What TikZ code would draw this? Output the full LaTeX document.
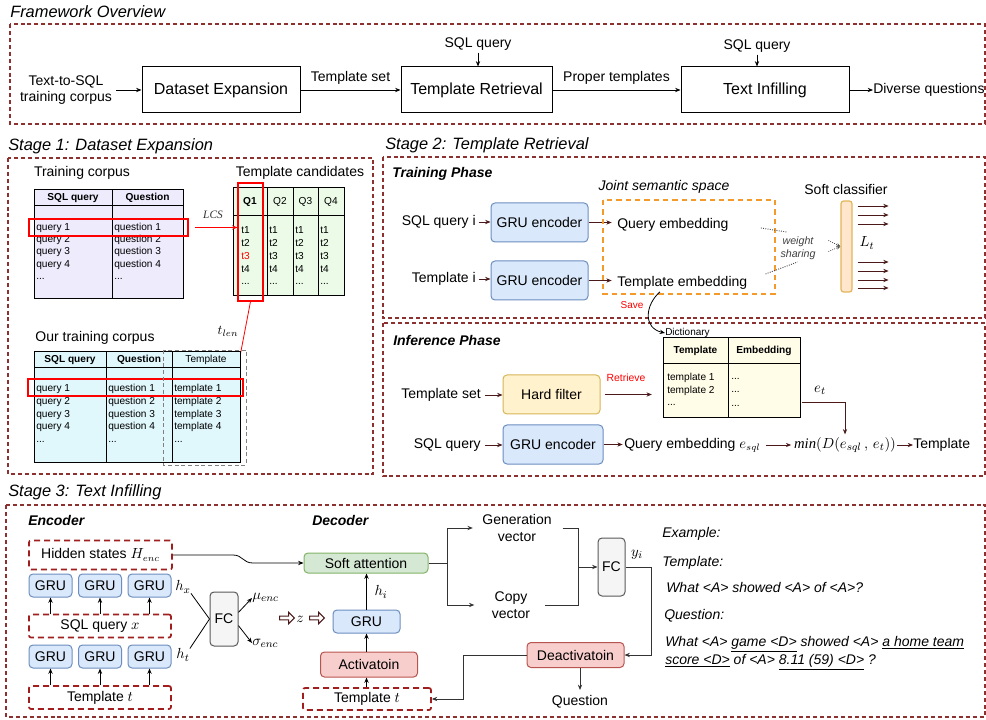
\documentclass[tikz,border=0pt]{standalone}
\usepackage{fontspec}
\setmainfont{Liberation Sans}
\newfontfamily\tnr{Liberation Serif}
\usetikzlibrary{arrows.meta,calc,shapes.arrows}
\definecolor{frame}{RGB}{140,48,48}
\definecolor{dred}{RGB}{160,30,30}
\definecolor{maroon}{RGB}{75,25,25}
\definecolor{bluef}{HTML}{DAE8FC}
\definecolor{bluel}{HTML}{6C8EBF}
\definecolor{greenf}{HTML}{D5E8D4}
\definecolor{greenl}{HTML}{82B366}
\definecolor{redf}{HTML}{F8CECC}
\definecolor{redl}{HTML}{B85450}
\definecolor{yelf}{HTML}{FFF2CC}
\definecolor{yell}{HTML}{D6B656}
\definecolor{orgf}{HTML}{FFE6CC}
\definecolor{orgl}{HTML}{E2B55A}
\definecolor{greyf}{HTML}{F5F5F5}
\definecolor{lav}{HTML}{EEEBFC}
\definecolor{mint}{HTML}{EBFBE8}
\definecolor{cyanf}{HTML}{E0F7FC}
\definecolor{creamf}{HTML}{FFFDE8}
\definecolor{orng}{HTML}{F39A2B}
\newcommand\fA{\fontsize{10.5}{12.6}\selectfont}
\newcommand\fB{\fontsize{12}{14.4}\selectfont}
\newcommand\fS{\fontsize{7.6}{9}\selectfont}
\newcommand\fT{\fontsize{12.3}{14}\selectfont\itshape}
\newcommand\fH{\fontsize{10.5}{12.6}\selectfont\bfseries\itshape}
\tikzset{
 sz/.style 2 args={minimum width=#1*0.75pt, minimum height=#2*0.75pt, inner sep=0pt},
 frm/.style={draw=frame, line width=0.8pt, dash pattern=on 3pt off 2.2pt},
 ttl/.style={font=\fT, anchor=west, inner sep=0pt},
 hdr/.style={font=\fH, anchor=west, inner sep=0pt},
 lbl/.style={font=\fA, align=center, inner sep=0pt},
 plainbox/.style={draw, line width=0.75pt, font=\fB},
 arr/.style={-{Stealth[length=4pt,width=3.2pt]}, line width=0.6pt},
 marr/.style={arr, draw=maroon},
 cell/.style={font=\fS, anchor=west, inner sep=0pt},
 hcell/.style={font=\fS\bfseries, inner sep=0pt},
 tab/.style={draw, line width=0.75pt},
 gru/.style={draw=bluel, fill=bluef, rounded corners=3pt, line width=0.75pt, font=\fA},
 dbox/.style={draw=dred, line width=1.3pt, dash pattern=on 4.5pt off 3pt, rounded corners=1.5pt, font=\fA},
 fcbox/.style={draw=gray!70!black, fill=greyf, rounded corners=3pt, line width=0.75pt, font=\fA},
 redbox/.style={draw=redl, fill=redf, rounded corners=3pt, line width=0.75pt, font=\fA},
 hl/.style={draw=red, line width=0.8pt},
 ex/.style={font=\fA\itshape, anchor=west, inner sep=0pt},
 oarr/.style={single arrow, draw=maroon, fill=white, line width=0.8pt, minimum height=11pt, minimum width=8.5pt, single arrow head extend=2pt, inner sep=0.6pt},
 mth/.style={font=\fontsize{11}{13}\selectfont, inner sep=0pt},
}
\begin{document}
\begin{tikzpicture}[x=0.75pt,y=-0.75pt]
\useasboundingbox (0,0) rectangle (986,720);

% ---------------- Framework overview
\node[ttl] (t0) at (10,12) {Framework Overview};
\draw[frm] (10,24) rectangle (985,124);
\node[lbl] (corpus) at (66,90) {Text-to-SQL\\training corpus};
\node[plainbox, sz={158}{46}] (de) at (221,90) {Dataset Expansion};
\node[plainbox, sz={151}{46}] (tr) at (476.5,90) {Template Retrieval};
\node[plainbox, sz={168}{46}] (ti) at (765,90) {Text Infilling};
\node[lbl, anchor=west] (dq) at (873,90) {Diverse questions};
\node[lbl] (sq1) at (478,44) {SQL query};
\node[lbl] (sq2) at (757,46) {SQL query};
\draw[arr, shorten <=3pt] (corpus.east) -- (corpus.east -| de.west);
\draw[arr] (de.east) -- node[lbl, above=4pt] (ts1) {Template set} (tr.west);
\draw[arr] (tr.east) -- node[lbl, above=4pt] (pt1) {Proper templates} (ti.west);
\draw[arr] (ti.east) -- (dq.west);
\draw[arr, shorten <=1.5pt] (sq1.south) -- (sq1.south |- tr.north);
\draw[arr, shorten <=1.5pt] (sq2.south) -- (sq2.south |- ti.north);

% ---------------- Stage 1
\node[ttl] (t1) at (8,146) {Stage 1: Dataset Expansion};
\draw[frm] (8,158) rectangle (373,474);
\node[lbl] (tcl) at (82,173) {Training corpus};
\node[tab, fill=lav, sz={149}{109}] (tc1) at (108.5,244.5) {};
\draw[line width=0.75pt] (34,206) -- (183,206) (112,190) -- (112,299);
\node[hcell] (h11) at (73,198) {SQL query};
\node[hcell] (h12) at (147.5,198) {Question};
\foreach \y/\n in {228/1,240/2,252/3,265/4} {
  \node[cell] (qa\n) at (36,\y) {query \n};
  \node[cell] (qb\n) at (114,\y) {question \n};
}
\node[cell] (qa5) at (36,279) {...};
\node[cell] (qb5) at (114,279) {...};
\node[hl, sz={159}{17}] (hl1) at (108.5,227.5) {};

\node[lbl] (tcand) at (300,173) {Template candidates};
\node[tab, fill=mint, sz={111}{108}] (tc2) at (288.5,242) {};
\draw[line width=0.75pt] (233,216) -- (344,216) (267,188) -- (267,296) (293,188) -- (293,296) (318,188) -- (318,296);
\node[hcell] (q1) at (250,202) {Q1};
\node[font=\fS, inner sep=0pt] (q2) at (280,202) {Q2};
\node[font=\fS, inner sep=0pt] (q3) at (305.5,202) {Q3};
\node[font=\fS, inner sep=0pt] (q4) at (331,202) {Q4};
\foreach \x/\c in {269/b,295/c,320/d} {
  \foreach \y/\n in {230/1,243/2,256/3,269/4} {
    \node[cell] (t\c\n) at (\x,\y) {t\n};
  }
  \node[cell] (t\c5) at (\x,284) {...};
}
\node[cell] (ta1) at (241,230) {t1};
\node[cell] (ta2) at (241,243) {t2};
\node[cell, text=red] (ta3) at (241,256) {t3};
\node[cell] (ta4) at (241,269) {t4};
\node[cell] (ta5) at (241,284) {...};
\node[hl, sz={25}{118}] (q1h) at (250.5,242) {};
\draw[arr, red, shorten <=4.5pt] (hl1.east) -- (hl1.east -| q1h.west)
   node[midway, above=3pt, font=\tnr\itshape\fontsize{8.5}{10}\selectfont, text=black!80] (lcs) {LCS};

\coordinate (tl) at (237,372);
\draw[arr, red] (q1h.south) -- (tl);
\node[font=\fontsize{10}{12}\selectfont, inner sep=0pt] (tlen) at (228,331) {$t_{len}$};

\node[lbl] (otc) at (95,338) {Our training corpus};
\node[tab, fill=cyanf, sz={206}{110}] (tc3) at (137,407) {};
\draw[line width=0.75pt] (34,368) -- (240,368) (106,352) -- (106,462) (172,352) -- (172,462);
\node[hcell] (h31) at (70,360) {SQL query};
\node[hcell] (h32) at (139,360) {Question};
\node[font=\fS, inner sep=0pt] (h33) at (206,360) {Template};
\foreach \y/\n in {389/1,402/2,415/3,427/4} {
  \node[cell] (ra\n) at (36,\y) {query \n};
  \node[cell] (rb\n) at (108,\y) {question \n};
  \node[cell] (rc\n) at (174,\y) {template \n};
}
\node[cell] (ra5) at (36,442) {...};
\node[cell] (rb5) at (108,442) {...};
\node[cell] (rc5) at (174,442) {...};
\node[hl, sz={215}{17}] (hl3) at (135.5,387.5) {};
\draw[gray, line width=0.7pt, dash pattern=on 3pt off 2pt] (163,350) rectangle (246,465);

% ---------------- Stage 2
\node[ttl] (t2) at (385,145) {Stage 2: Template Retrieval};
\draw[frm] (383,157) rectangle (985,318);
\draw[frm] (383,323) rectangle (985,476);
\node[hdr] (trp) at (392,174) {Training Phase};
\node[gru, sz={97}{39}] (ge1) at (539.5,222.5) {GRU encoder};
\node[gru, sz={97}{39}] (ge2) at (539.5,280.5) {GRU encoder};
\node[lbl, anchor=east] (sqi) at (476,222) {SQL query i};
\node[lbl, anchor=east] (tmi) at (476,279) {Template i};
\draw[marr, shorten <=2pt] (sqi.east) -- (sqi.east -| ge1.west);
\draw[marr, shorten <=2pt] (tmi.east) -- (tmi.east -| ge2.west);
\node[lbl, anchor=west] (qe) at (617,225) {Query embedding};
\node[lbl, anchor=west] (te) at (617,283) {Template embedding};
\draw[marr, shorten >=4pt] (ge1.east) -- (ge1.east -| qe.west);
\draw[marr, shorten >=4pt] (ge2.east) -- (ge2.east -| te.west);
\node[font=\fA\itshape, inner sep=0pt] (jss) at (664,187) {Joint semantic space};
\draw[draw=orng, line width=1pt, dash pattern=on 4pt off 3pt] (603,200) rectangle (775,294);
\node[draw=orgl, fill=orgf, rounded corners=2pt, line width=0.9pt, sz={11}{91}] (sc) at (846.5,246.5) {};
\node[lbl] (scl) at (846,189) {Soft classifier};
\foreach \y in {206,215,224,262,271,280,288} {
  \draw[marr] ([xshift=3.75pt, yshift={(246.5-\y)*0.75pt}]sc.east) -- ++(31,0);
}
\node[mth] (lt) at (867,243) {$L_t$};
\draw[densely dotted, gray!60!black, line width=0.7pt] ($(qe.east)+(32,3)$) -- ++(26,4);
\draw[densely dotted, gray!60!black, line width=0.7pt] ($(te.east)+(18,-9)$) -- ++(32,-12);
\node[font=\fontsize{8}{9.6}\selectfont\itshape, align=center, text=black!75, inner sep=0pt] (ws) at (798,248) {weight\\sharing};
\draw[densely dotted, gray!60!black, line width=0.6pt, -{Stealth[length=3pt,width=2.5pt]}] ($(sc.west)+(-12,-6)$) -- (sc.west);
\draw[densely dotted, gray!60!black, line width=0.6pt, -{Stealth[length=3pt,width=2.5pt]}] ($(sc.west)+(-12,5)$) -- (sc.west);

\node[font=\fontsize{7.5}{9}\selectfont, anchor=west, inner sep=0pt] (dl) at (665,333) {Dictionary};
\draw[arr] ($(te.south west)+(43,2)$) .. controls (645,305) and (643,328) .. (dl.west);
\node[text=red, font=\fontsize{7.5}{9}\selectfont, inner sep=0pt] (save) at (632,305) {Save};

\node[hdr] (inp) at (393,340) {Inference Phase};
\node[lbl, anchor=east] (tset) at (481,395) {Template set};
\node[draw=yell, fill=yelf, rounded corners=3pt, line width=0.75pt, font=\fA, sz={97}{39}] (hf) at (551.5,394.5) {Hard filter};
\draw[marr, shorten <=3pt] (tset.east) -- (tset.east -| hf.west);
\node[tab, fill=creamf, sz={137}{80}] (dict) at (731.5,378) {};
\draw[line width=0.75pt] (663,364) -- (800,364) (728,338) -- (728,418);
\node[hcell] (dh1) at (695.5,351) {Template};
\node[hcell] (dh2) at (764,351) {Embedding};
\node[cell] (dr1) at (667,378) {template 1};
\node[cell] (dr2) at (667,391) {template 2};
\node[cell] (dr3) at (667,405) {...};
\node[cell] (de1) at (731,379) {...};
\node[cell] (de2) at (731,392) {...};
\node[cell] (de3) at (731,406) {...};
\node[text=red, font=\fontsize{7.8}{9}\selectfont, inner sep=0pt] (retr) at (626,378) {Retrieve};
\draw[marr, shorten <=3pt, shorten >=8pt] (hf.east) -- (hf.east -| dict.west);

\node[gru, sz={100}{39}] (ge3) at (553,444.5) {GRU encoder};
\node[lbl, anchor=east] (sq3) at (481,445) {SQL query};
\node[lbl, anchor=west] (qe3) at (624,445) {Query embedding $e_{sql}$};
\node[mth] (minx) at (845,445) {{\tnr\itshape min}$(D(e_{sql}\,,\,e_t))$};
\node[lbl, anchor=west] (tpl) at (913,445) {Template};
\draw[marr, shorten <=3pt] (sq3.east) -- (sq3.east -| ge3.west);
\draw[marr, shorten >=1pt] (ge3.east) -- (ge3.east -| qe3.west);
\draw[marr, shorten <=4pt, shorten >=2pt] (qe3.east) -- (qe3.east -| minx.west);
\draw[marr, shorten <=1pt] (minx.east) -- (minx.east -| tpl.west);
\node[mth] (et) at (820,390) {$e_t$};
\draw[marr] ([xshift=1pt, yshift=-18pt]dict.east) -| ([yshift=2pt]minx.north);

% ---------------- Stage 3
\node[ttl] (t3) at (8,492) {Stage 3: Text Infilling};
\draw[frm] (6,505) rectangle (985,717);
\node[hdr] (enc) at (28,520) {Encoder};
\node[hdr] (dec) at (312,520) {Decoder};
\node[dbox, sz={143}{29}] (hs) at (100.5,555) {Hidden states $H_{enc}$};
\foreach \x/\n in {50.5/1,100/2,149.5/3} {
  \node[gru, sz={43}{23}] (ga\n) at (\x,585.5) {GRU};
  \node[gru, sz={43}{23}] (gb\n) at (\x,656.5) {GRU};
}
\node[dbox, sz={142}{23}] (sqx) at (100,626) {SQL query $x$};
\node[dbox, sz={142}{23}] (tpt) at (100,697.5) {Template $t$};
\foreach \n in {1,2,3} {
  \draw[arr] (sqx.north -| ga\n) -- (ga\n.south);
  \draw[arr] (tpt.north -| gb\n) -- (gb\n.south);
}
\node[mth] (hx) at (183,587) {$h_x$};
\node[mth] (ht) at (183,655) {$h_t$};
\node[fcbox, sz={28}{54}] (fc1) at (224,619) {FC};
\draw[line width=0.6pt] (hx.south east) -- (fc1.west);
\draw[line width=0.6pt] (ht.north east) -- (fc1.west);
\node[mth, anchor=west] (mu) at (252,598) {$\mu_{enc}$};
\node[mth, anchor=west] (sig) at (252,643) {$\sigma_{enc}$};
\draw[arr] ([yshift=5pt]fc1.east) -- (mu.west);
\draw[arr] ([yshift=-5pt]fc1.east) -- (sig.west);
\node[oarr] (oa1) at (286,618) {};
\node[mth] (zz) at (300,619) {$z$};
\node[oarr] (oa2) at (316,618) {};

\node[draw=greenl, fill=greenf, rounded corners=3pt, line width=0.75pt, font=\fA, sz={124}{20}] (sa) at (366,563) {Soft attention};
\draw[arr] (hs.east) -- ++(60,0) .. controls +(10,0) and +(-10,0) .. ++(20,8) -- (sa.west);
\node[gru, sz={67}{23}] (gd) at (366.5,621.5) {GRU};
\draw[arr] (gd.north) -- (gd.north |- sa.south);
\node[mth] (hi) at (381,592) {$h_i$};
\node[redbox, sz={97}{25}] (act) at (369,664.5) {Activatoin};
\draw[arr] (act.north -| gd) -- (gd.south);
\node[dbox, sz={128}{22}] (tpt2) at (367,699) {Template $t$};
\draw[arr] (tpt2.north -| gd) -- (act.south -| gd);

\node[lbl] (gv) at (517,528) {Generation\\vector};
\node[lbl] (cv) at (511,605) {Copy\\vector};
\coordinate (jn) at (447,563);
\draw[line width=0.75pt, black!80] (sa.east) -- (jn);
\draw[arr, black!80, shorten >=7pt] (jn) |- (gv.west);
\draw[arr, black!80, shorten >=13pt] (jn) |- (cv.west);
\coordinate (jr) at (578,567);
\draw[line width=0.75pt, black!80] ([xshift=8pt]gv.east) -| (jr);
\draw[line width=0.75pt, black!80] ([xshift=11pt]cv.east) -| (jr);
\node[fcbox, sz={27}{58}] (fc2) at (611.5,567) {FC};
\draw[arr, black!80] (jr) -- (fc2.west);
\node[mth] (yi) at (637,555) {$y_i$};
\node[redbox, sz={97}{25}] (deact) at (575.5,655) {Deactivatoin};
\coordinate (jy) at (651,567);
\draw[arr, black!80] (fc2.east) -- (jy) |- (deact.east);
\node[lbl] (qn) at (580,702) {Question};
\draw[arr, black!80, shorten >=4pt] (deact.south -| qn) -- (qn.north);
\coordinate (jd) at (463,655);
\draw[arr, black!80] (deact.west) -- (jd) |- (tpt2.east);

\node[ex] (ex1) at (662,534) {Example:};
\node[ex] (ex2) at (662,563) {Template:};
\node[ex] (ex3) at (666,587) {What <A> showed <A> of <A>?};
\node[ex] (ex4) at (664,616) {Question:};
\node[ex] (ex5) at (665,644) {What <A> \underline{game <D>} showed <A> \underline{a home team}};
\node[ex] (ex6) at (665,662) {\underline{score <D>} of <A> \underline{8.11 (59) <D>} ?};
\end{tikzpicture}
\end{document}
